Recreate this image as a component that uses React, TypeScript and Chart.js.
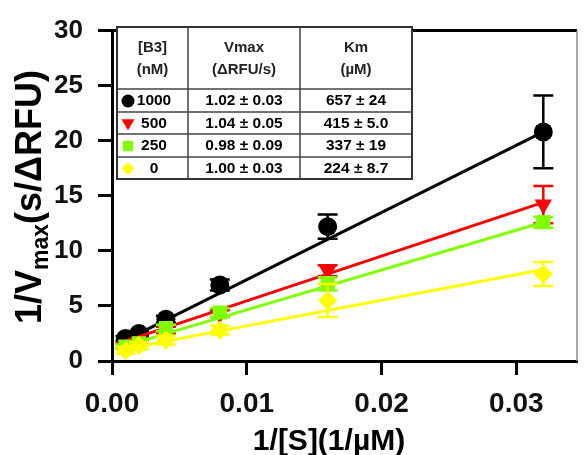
import React, { useEffect, useRef } from "react";
import { Chart, registerables } from "chart.js";

Chart.register(...registerables);

// ---- data ----
const xValues = [0.001, 0.002, 0.004, 0.008, 0.016, 0.032];
const b1000 = [2.05, 2.5, 3.8, 6.9, 12.2, 20.8];
const err1000 = [0.2, 0.2, 0.3, 0.5, 1.1, 3.3];
const b500 = [1.4, 1.8, 2.8, 4.3, 8.2, 14.2];
const err500 = [0.2, 0.2, 0.3, 0.3, 0.5, 1.7];
const b250 = [1.3, 1.6, 3.0, 4.4, 7.0, 12.6];
const err250 = [0.2, 0.2, 0.3, 0.4, 0.6, 0.5];
const b0 = [0.95, 1.4, 1.9, 2.8, 5.5, 7.9];
const err0 = [0.3, 0.3, 0.4, 0.4, 1.5, 1.1];

const fitX = [0.001, 0.032];
const fit1000 = [1.9, 20.8];
const fit500 = [1.8, 14.4];
const fit250 = [1.4, 12.6];
const fit0 = [1.1, 8.3];

const xTicks = [0, 0.01, 0.02, 0.03];
const xTickLabels = ["0.00", "0.01", "0.02", "0.03"];

const tableHeader1 = ["[B3]", "Vmax", "Km"];
const tableHeader2 = ["(nM)", "(\u0394RFU/s)", "(\u00b5M)"];
const tableConc = ["1000", "500", "250", "0"];
const tableVmax = ["1.02 \u00b1 0.03", "1.04 \u00b1 0.05", "0.98 \u00b1 0.09", "1.00 \u00b1 0.03"];
const tableKm = ["657 \u00b1 24", "415 \u00b1 5.0", "337 \u00b1 19", "224 \u00b1 8.7"];

const xTitle = "1/[S](1/\u00b5M)";
const yTitleA = "1/V";
const yTitleSub = "max";
const yTitleB = "(s/\u0394RFU)";

const BLACK = "#000000";
const RED = "#ff0000";
const GREEN = "#80ff00";
const YELLOW = "#ffff00";
const seriesColors = [BLACK, RED, GREEN, YELLOW];
const seriesShapes = ["circle", "triangle", "rect", "rectRot"];

const FONT = "'Liberation Sans', Arial, Helvetica, sans-serif";

const pts = (ys: number[]) => ys.map((y, i) => ({ x: xValues[i], y }));
const fitPts = (ys: number[]) => ys.map((y, i) => ({ x: fitX[i], y }));

function drawShape(ctx: CanvasRenderingContext2D, shape: string, x: number, y: number, r: number, color: string) {
  ctx.save();
  ctx.fillStyle = color;
  ctx.beginPath();
  if (shape === "circle") {
    ctx.arc(x, y, r, 0, Math.PI * 2);
  } else if (shape === "triangle") {
    ctx.moveTo(x - r, y - r * 0.8);
    ctx.lineTo(x + r, y - r * 0.8);
    ctx.lineTo(x, y + r * 0.9);
    ctx.closePath();
  } else if (shape === "rect") {
    ctx.rect(x - r * 0.8, y - r * 0.8, r * 1.6, r * 1.6);
  } else {
    ctx.moveTo(x, y - r);
    ctx.lineTo(x + r, y);
    ctx.lineTo(x, y + r);
    ctx.lineTo(x - r, y);
    ctx.closePath();
  }
  ctx.fill();
  ctx.restore();
}

const decorPlugin = {
  id: "decor",
  beforeDatasetDraw(chart: any, args: any) {
    const ds = chart.data.datasets[args.index];
    if (!ds.errors) return;
    const meta = chart.getDatasetMeta(args.index);
    const ys = chart.scales.y;
    const ctx = chart.ctx as CanvasRenderingContext2D;
    ctx.save();
    ctx.strokeStyle = ds.backgroundColor;
    ctx.lineWidth = 2.5;
    meta.data.forEach((pt: any, i: number) => {
      const v = ds.data[i].y;
      const e = ds.errors[i];
      const x = pt.x;
      const yt = ys.getPixelForValue(v + e);
      const yb = ys.getPixelForValue(v - e);
      ctx.beginPath();
      ctx.moveTo(x, yt);
      ctx.lineTo(x, yb);
      ctx.moveTo(x - 10, yt);
      ctx.lineTo(x + 10, yt);
      ctx.moveTo(x - 10, yb);
      ctx.lineTo(x + 10, yb);
      ctx.stroke();
    });
    ctx.restore();
  },
  afterDraw(chart: any) {
    const ctx = chart.ctx as CanvasRenderingContext2D;
    const a = chart.chartArea;
    ctx.save();
    // frame
    ctx.strokeStyle = "#000";
    ctx.lineWidth = 3;
    ctx.beginPath();
    ctx.moveTo(a.left, a.top);
    ctx.lineTo(a.right, a.top);
    ctx.stroke();
    ctx.strokeStyle = "#8a8a8a";
    ctx.lineWidth = 1.5;
    ctx.beginPath();
    ctx.moveTo(a.right, a.top);
    ctx.lineTo(a.right, a.bottom);
    ctx.stroke();

    // table
    const cols = [117, 188, 300, 412];
    const rows = [27, 89, 112, 134, 157, 179];
    ctx.fillStyle = "#fff";
    ctx.fillRect(cols[0], rows[0], cols[3] - cols[0], rows[5] - rows[0]);
    ctx.strokeStyle = "#444";
    ctx.lineWidth = 1.5;
    ctx.beginPath();
    for (let i = 1; i < rows.length - 1; i++) {
      ctx.moveTo(cols[0], rows[i]);
      ctx.lineTo(cols[3], rows[i]);
    }
    for (let j = 1; j < cols.length - 1; j++) {
      ctx.moveTo(cols[j], rows[0]);
      ctx.lineTo(cols[j], rows[5]);
    }
    ctx.stroke();
    ctx.lineWidth = 2;
    ctx.strokeStyle = "#333";
    ctx.strokeRect(cols[0], rows[0], cols[3] - cols[0], rows[5] - rows[0]);

    ctx.textAlign = "center";
    ctx.textBaseline = "middle";
    ctx.fillStyle = "#222";
    ctx.font = `bold 15px ${FONT}`;
    for (let j = 0; j < 3; j++) {
      const cx = (cols[j] + cols[j + 1]) / 2;
      ctx.fillText(tableHeader1[j], cx, 48);
      ctx.fillText(tableHeader2[j], cx, 70);
    }
    ctx.fillStyle = "#000";
    ctx.font = `bold 15.5px ${FONT}`;
    for (let i = 0; i < 4; i++) {
      const cy = (rows[i + 1] + rows[i + 2]) / 2 + 0.5;
      ctx.fillText(tableConc[i], 154, cy);
      ctx.fillText(tableVmax[i], (cols[1] + cols[2]) / 2, cy);
      ctx.fillText(tableKm[i], (cols[2] + cols[3]) / 2, cy);
      drawShape(ctx, seriesShapes[i], 128, cy + (i === 1 ? 1 : 0), 6.5, seriesColors[i]);
    }

    // axis titles
    ctx.fillStyle = "#000";
    ctx.font = `bold 30px ${FONT}`;
    ctx.textAlign = "center";
    ctx.textBaseline = "middle";
    ctx.fillText(xTitle, 329, 442);

    ctx.translate(28, 197);
    ctx.rotate(-Math.PI / 2);
    ctx.textAlign = "left";
    ctx.textBaseline = "alphabetic";
    const big = `bold 36px ${FONT}`;
    const small = `bold 23px ${FONT}`;
    ctx.font = big;
    const wA = ctx.measureText(yTitleA).width;
    const wB = ctx.measureText(yTitleB).width;
    ctx.font = small;
    const wS = ctx.measureText(yTitleSub).width;
    const total = wA + wS + wB;
    let px = -total / 2;
    const base = 13;
    ctx.font = big;
    ctx.fillText(yTitleA, px, base);
    px += wA;
    ctx.font = small;
    ctx.fillText(yTitleSub, px, base + 7);
    px += wS;
    ctx.font = big;
    ctx.fillText(yTitleB, px, base);
    ctx.restore();
  },
};

export default function App() {
  const ref = useRef<HTMLCanvasElement | null>(null);
  useEffect(() => {
    if (!ref.current) return;
    const scatter = (label: string, ys: number[], errs: number[], color: string, shape: string, radius: number, order: number, rotation = 0) => ({
      type: "scatter" as const,
      label,
      data: pts(ys),
      errors: errs,
      backgroundColor: color,
      borderColor: color,
      pointStyle: shape,
      pointRadius: radius,
      pointRotation: rotation,
      pointBorderWidth: 0,
      showLine: false,
      order,
    });
    const fit = (label: string, ys: number[], color: string, order: number) => ({
      type: "line" as const,
      label,
      data: fitPts(ys),
      borderColor: color,
      backgroundColor: color,
      borderWidth: 3,
      pointRadius: 0,
      fill: false,
      order,
    });
    const chart = new Chart(ref.current, {
      type: "scatter",
      data: {
        datasets: [
          fit("fit 0", fit0, YELLOW, 2),
          scatter("0 nM", b0, err0, YELLOW, "rectRot", 9.5, 1),
          fit("fit 250", fit250, GREEN, 4),
          scatter("250 nM", b250, err250, GREEN, "rect", 10, 3),
          fit("fit 500", fit500, RED, 6),
          scatter("500 nM", b500, err500, RED, "triangle", 10, 5, 180),
          fit("fit 1000", fit1000, BLACK, 8),
          scatter("1000 nM", b1000, err1000, BLACK, "circle", 9.5, 7),
        ] as any,
      },
      options: {
        animation: false,
        responsive: false,
        layout: { padding: { top: 25, right: 6, left: 0, bottom: 0 } },
        plugins: { legend: { display: false }, tooltip: { enabled: false } },
        scales: {
          x: {
            type: "linear",
            min: 0,
            max: 0.0345,
            afterBuildTicks: (s: any) => {
              s.ticks = xTicks.map((v) => ({ value: v }));
            },
            afterFit: (s: any) => {
              s.height = 94;
            },
            ticks: {
              callback: (v: any) => {
                const i = xTicks.findIndex((t) => Math.abs(t - v) < 1e-9);
                return i >= 0 ? xTickLabels[i] : "";
              },
              font: { family: FONT, size: 28, weight: "bold" },
              color: "#111",
              padding: 12,
              maxRotation: 0,
              autoSkip: false,
            },
            grid: { drawOnChartArea: false, drawTicks: true, tickLength: 14, tickWidth: 3, tickColor: "#000" },
            border: { display: true, width: 3, color: "#000" },
          },
          y: {
            type: "linear",
            min: 0,
            max: 30,
            afterFit: (s: any) => {
              s.width = 112;
            },
            ticks: {
              stepSize: 5,
              font: { family: FONT, size: 26, weight: "bold" },
              color: "#111",
              padding: 15,
            },
            grid: { drawOnChartArea: false, drawTicks: true, tickLength: 14, tickWidth: 3, tickColor: "#000" },
            border: { display: true, width: 3, color: "#000" },
          },
        },
      } as any,
      plugins: [decorPlugin as any],
    });
    return () => chart.destroy();
  }, []);
  return (
    <div style={{ position: "absolute", left: 0, top: 0, width: 587, height: 455, background: "#fff" }}>
      <canvas ref={ref} width={587} height={455} style={{ display: "block" }} />
    </div>
  );
}
